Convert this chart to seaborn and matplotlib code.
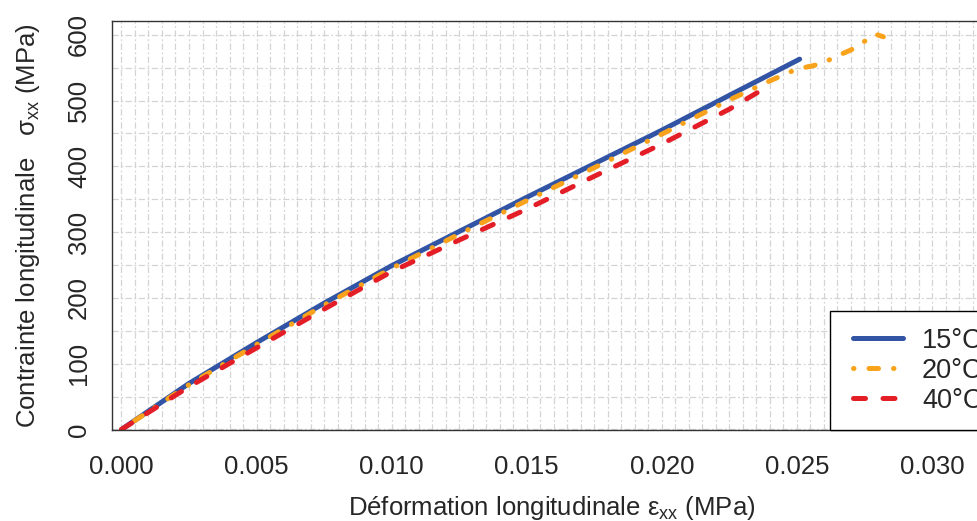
import numpy as np
import pandas as pd
import matplotlib
matplotlib.use("Agg")
import matplotlib.pyplot as plt
from matplotlib.lines import Line2D
from matplotlib.legend_handler import HandlerLine2D
from matplotlib.ticker import MultipleLocator
import seaborn as sns

# strain / stress curves
temps = ["15°C", "20°C", "40°C"]

eps_15 = [0.0, 0.0025, 0.005, 0.0075, 0.010, 0.0125, 0.015, 0.0175, 0.020, 0.0225, 0.0251]
sig_15 = [0, 70, 132, 192, 249, 301, 353, 404, 455, 508, 563]

eps_20 = [0.0, 0.0025, 0.005, 0.0075, 0.010, 0.0125, 0.015, 0.0175, 0.020, 0.0225,
          0.0240, 0.0250, 0.0256, 0.0260, 0.0265, 0.0270, 0.0275, 0.0279, 0.0282]
sig_20 = [0, 68, 129, 189, 245, 297, 348, 398, 449, 501,
          530, 548, 553, 558, 568, 577, 590, 601, 597]

eps_40 = [0.0, 0.0025, 0.005, 0.0075, 0.010, 0.0125, 0.015, 0.0175, 0.020, 0.0225, 0.0239]
sig_40 = [0, 65, 124, 183, 240, 288, 335, 385, 434, 487, 521]

colors = {"15°C": "#3254A5", "20°C": "#F8A31B", "40°C": "#E41E26"}
dashes = {"15°C": "", "20°C": (0.1, 3.0, 1.9, 3.0), "40°C": (2.4, 3.5)}

df = pd.concat([
    pd.DataFrame({"eps": eps_15, "sigma": sig_15, "temp": temps[0]}),
    pd.DataFrame({"eps": eps_20, "sigma": sig_20, "temp": temps[1]}),
    pd.DataFrame({"eps": eps_40, "sigma": sig_40, "temp": temps[2]}),
], ignore_index=True)

sns.set_style("white")
plt.rcParams["font.family"] = ["Liberation Sans", "DejaVu Sans"]
plt.rcParams["mathtext.fontset"] = "custom"
plt.rcParams["mathtext.rm"] = "Liberation Sans"
plt.rcParams["text.color"] = "#262626"

fig = plt.figure(figsize=(9.78, 5.21), dpi=100)
# plot region runs past the right edge, like the cropped original
ax = fig.add_axes([112 / 978, 91 / 521, 880 / 978, 409 / 521])

sns.lineplot(data=df, x="eps", y="sigma", hue="temp", style="temp",
             hue_order=temps, style_order=temps, palette=colors, dashes=dashes,
             linewidth=3.6, sort=False, estimator=None, legend=False, ax=ax,
             solid_capstyle="round", dash_capstyle="round")

ax.set_xlim(-0.00035, 0.03222)
ax.set_ylim(-0.8, 621)

ax.xaxis.set_major_locator(MultipleLocator(0.005))
ax.xaxis.set_minor_locator(MultipleLocator(0.0005))
ax.yaxis.set_major_locator(MultipleLocator(100))
ax.yaxis.set_minor_locator(MultipleLocator(50))
ax.xaxis.set_major_formatter(plt.FuncFormatter(lambda v, p: f"{v:.3f}"))
ax.yaxis.set_major_formatter(plt.FuncFormatter(lambda v, p: f"{v:.0f}"))

ax.grid(which="both", color="#d4d4d4", linestyle=(0, (5, 2, 1.5, 2)), linewidth=0.9)
ax.set_axisbelow(True)

ax.tick_params(which="major", length=9, width=1.2, color="#808080",
               labelsize=18.5, labelcolor="#262626")
ax.tick_params(axis="x", pad=9)
ax.tick_params(axis="y", pad=6, labelrotation=90)
ax.tick_params(which="minor", length=0)
for lab in ax.get_yticklabels():
    lab.set_va("center")

for side in ["top", "left", "bottom", "right"]:
    ax.spines[side].set_color("#333333")
    ax.spines[side].set_linewidth(1.0)

ax.set_xlabel("Déformation longitudinale ε$_{\\mathregular{xx}}$ (MPa)", fontsize=18.5)
ax.set_ylabel("Contrainte longitudinale   σ$_{\\mathregular{xx}}$ (MPa)", fontsize=18.5)
ax.xaxis.set_label_coords(0.5, -0.156)
ax.yaxis.set_label_coords(-0.079, 0.5)

leg = ax.legend(handles=ax.lines[:3], labels=temps, loc="lower left",
                bbox_to_anchor=((830 - 112) / 880, 0), borderaxespad=0,
                frameon=True, fancybox=False, edgecolor="black", framealpha=1,
                handlelength=2.1, handletextpad=0.7, labelspacing=0.15,
                borderpad=0.6, fontsize=19.5,
                handler_map={Line2D: HandlerLine2D(xpad=0.25)})
leg.get_frame().set_linewidth(1.0)

fig.savefig("out.png", dpi=100)
